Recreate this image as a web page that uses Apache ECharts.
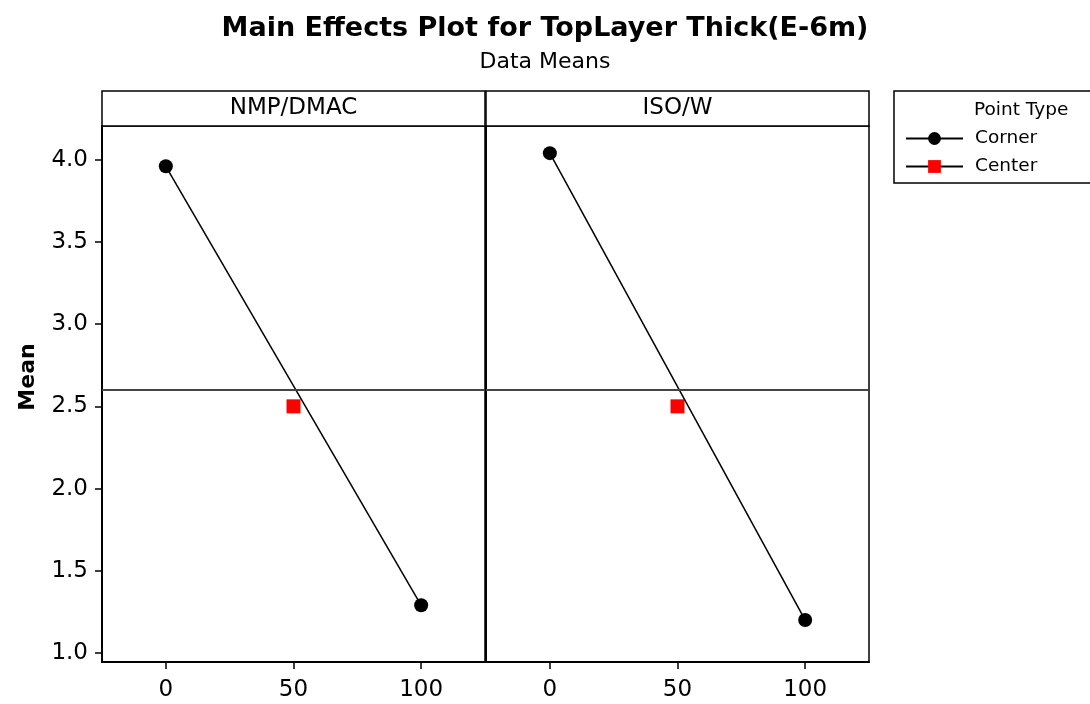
<!DOCTYPE html>
<html>
<head>
<meta charset="utf-8">
<script src="https://cdn.jsdelivr.net/npm/echarts@6/dist/echarts.min.js"></script>
<style>
  html, body { margin: 0; padding: 0; background: #fff; }
  #main { width: 1090px; height: 704px; }
</style>
</head>
<body>
<div id="main"></div>
<script>
// 数据
var factors = ['NMP/DMAC', 'ISO/W'];
var cornerLevels = [0, 100];
var centerLevel = 50;
var cornerMeans = [[3.96, 1.29], [4.04, 1.20]];
var centerMeans = [2.50, 2.50];
var grandMean = 2.604;
var yTicks = [1.0, 1.5, 2.0, 2.5, 3.0, 3.5, 4.0];
var xTicks = [0, 50, 100];

var font = 'DejaVu Sans';
var panelLeft = [102, 486];
var panelWidth = 383;

var myChart = echarts.init(document.getElementById('main'));

var grids = [], xAxes = [], yAxes = [], series = [], graphics = [];

factors.forEach(function (f, i) {
    grids.push({
        left: panelLeft[i], top: 126, width: panelWidth, bottom: 42,
        show: true, borderColor: '#000', borderWidth: 1.5,
        outerBoundsMode: 'none'
    });
    xAxes.push({
        gridIndex: i, type: 'value', min: -25, max: 125,
        axisLine: { show: true, onZero: false, lineStyle: { color: '#000', width: 2 } },
        axisTick: { show: true, length: 7, customValues: xTicks, lineStyle: { color: '#000', width: 1.5 } },
        axisLabel: { customValues: xTicks, color: '#000', fontSize: 23, fontFamily: font, margin: 17 },
        splitLine: { show: false }
    });
    yAxes.push({
        gridIndex: i, type: 'value', min: 0.945, max: 4.205,
        axisLine: { show: true, onZero: false, lineStyle: { color: '#000', width: 2 } },
        axisTick: { show: i === 0, length: 7, customValues: yTicks, lineStyle: { color: '#000', width: 1.5 } },
        axisLabel: {
            show: i === 0, customValues: yTicks, color: '#000', fontSize: 23, fontFamily: font, margin: 14,
            formatter: function (v) { return v.toFixed(1); }
        },
        splitLine: { show: false }
    });
    series.push({
        name: 'Corner', type: 'line', xAxisIndex: i, yAxisIndex: i,
        data: cornerLevels.map(function (x, k) { return [x, cornerMeans[i][k]]; }),
        symbol: 'circle', symbolSize: 14,
        itemStyle: { color: '#000' },
        lineStyle: { color: '#000', width: 1.5 },
        z: 3,
        markLine: {
            silent: true, symbol: ['none', 'none'],
            label: { show: false },
            lineStyle: { color: '#444', width: 2, type: 'solid' },
            data: [{ yAxis: grandMean }]
        }
    });
    series.push({
        name: 'Center', type: 'line', xAxisIndex: i, yAxisIndex: i,
        data: [[centerLevel, centerMeans[i]]],
        symbol: 'rect', symbolSize: 14,
        itemStyle: { color: '#ff0000' },
        lineStyle: { color: '#000', width: 1.5 },
        z: 2
    });
    // 面板标题框
    graphics.push({
        type: 'rect', shape: { x: panelLeft[i], y: 91, width: panelWidth, height: 35 },
        style: { fill: '#fff', stroke: '#000', lineWidth: 1.5 }
    });
    graphics.push({
        type: 'text', x: panelLeft[i] + panelWidth / 2, y: 108,
        style: { text: f, fontSize: 23, fontFamily: font, fill: '#000', align: 'center', verticalAlign: 'middle' }
    });
});

// Y轴名称
graphics.push({
    type: 'text', x: 28, y: 377, rotation: Math.PI / 2,
    style: { text: 'Mean', fontSize: 22, fontWeight: 'bold', fontFamily: font, fill: '#000', align: 'center', verticalAlign: 'middle' }
});

// 图例框
graphics.push({
    type: 'rect', shape: { x: 894, y: 91, width: 200, height: 92 },
    style: { fill: '#fff', stroke: '#000', lineWidth: 1.5 }, z: -1
});
graphics.push({
    type: 'text', x: 974, y: 110,
    style: { text: 'Point Type', fontSize: 18.5, fontFamily: font, fill: '#000', verticalAlign: 'middle' }
});

var option = {
    backgroundColor: '#fff',
    animation: false,
    title: [
        { text: 'Main Effects Plot for TopLayer Thick(E-6m)', left: 'center', top: 10,
          textStyle: { fontSize: 27, fontWeight: 'bold', fontFamily: font, color: '#000' } },
        { text: 'Data Means', left: 'center', top: 46,
          textStyle: { fontSize: 22, fontWeight: 'normal', fontFamily: font, color: '#000' } }
    ],
    legend: {
        data: ['Corner', 'Center'],
        orient: 'vertical', left: 905, top: 129,
        itemWidth: 57, itemHeight: 16, itemGap: 9, padding: 0,
        textStyle: { fontSize: 18.5, fontFamily: font, color: '#000', padding: [0, 0, 0, 7] }
    },
    grid: grids,
    xAxis: xAxes,
    yAxis: yAxes,
    series: series,
    graphic: graphics
};

myChart.setOption(option);
</script>
</body>
</html>
